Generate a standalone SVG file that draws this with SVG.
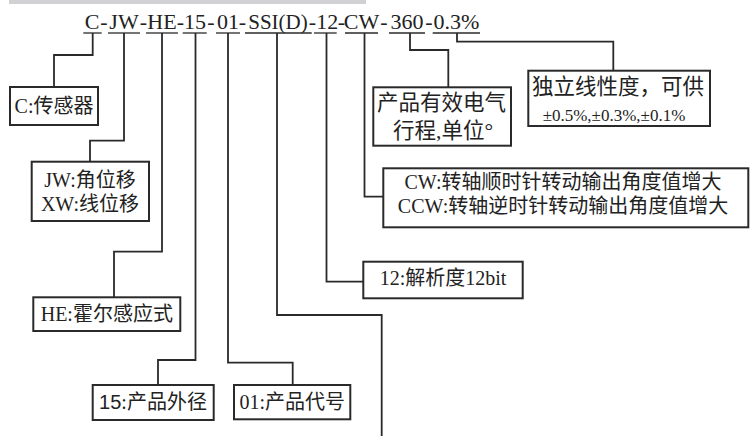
<svg xmlns="http://www.w3.org/2000/svg" width="753" height="436" viewBox="0 0 753 436">
<style>
text{font-family:"Liberation Serif","Noto Sans CJK SC",serif;fill:#222;font-size:20px}
.t{font-size:22px;text-anchor:middle}
.m{text-anchor:middle}
.box{fill:#fff;stroke:#2a2a2a;stroke-width:2}
.c{fill:none;stroke:#2a2a2a;stroke-width:1.8}
.u{stroke:#2a2a2a;stroke-width:1.3}
.sans{font-family:"Liberation Sans","Noto Sans CJK SC",sans-serif}
</style>
<rect x="9" y="0" width="357" height="4" fill="#d1d1d3"/>
<g id="code">
<text class="t" y="29"><tspan x="92">C</tspan><tspan x="104">-</tspan><tspan x="124">JW</tspan><tspan x="143.5">-</tspan><tspan x="162">HE</tspan><tspan x="180.5">-</tspan><tspan x="195">15</tspan><tspan x="211">-</tspan><tspan x="228">01</tspan><tspan x="242.5">-</tspan><tspan x="278" style="font-size:21px">SSI(D)</tspan><tspan x="312.3">-</tspan><tspan x="327.3">12</tspan><tspan x="341.5">-</tspan><tspan x="361.5">CW</tspan><tspan x="384">-</tspan><tspan x="407">360</tspan><tspan x="429">-</tspan><tspan x="456.5">0.3%</tspan></text>
<line class="u" x1="83.3" y1="33" x2="101.7" y2="33"/>
<line class="u" x1="108" y1="33" x2="140" y2="33"/>
<line class="u" x1="146" y1="33" x2="178" y2="33"/>
<line class="u" x1="182.7" y1="33" x2="206.7" y2="33"/>
<line class="u" x1="216" y1="33" x2="240" y2="33"/>
<line class="u" x1="245" y1="33" x2="311.7" y2="33"/>
<line class="u" x1="314" y1="33" x2="336.7" y2="33"/>
<line class="u" x1="345" y1="33" x2="378" y2="33"/>
<line class="u" x1="389" y1="33" x2="425" y2="33"/>
<line class="u" x1="432.7" y1="33" x2="480" y2="33"/>
</g>
<g id="connectors">
<path class="c" d="M92.7,33 V55 H54 V87"/>
<path class="c" d="M124,33 V140.7 H90 V161.7"/>
<path class="c" d="M162,33 V251.7 H114 V297.3"/>
<path class="c" d="M195.5,33 V360 H158 V385"/>
<path class="c" d="M228,33 V362.7 H292.7 V385"/>
<path class="c" d="M277,33 V315 H381.7 V436"/>
<path class="c" d="M326.5,33 V281.7 H363.3"/>
<path class="c" d="M364.5,33 V196.7 H383.3"/>
<path class="c" d="M410,33 V50 H448.3 V87.3"/>
<path class="c" d="M457,33 V41.7 H613.3 V70.7"/>
</g>
<g id="node-c">
<rect class="box" x="10" y="87" width="88" height="38"/>
<text class="m" x="54" y="113">C:传感器</text>
</g>
<g id="node-jw">
<rect class="box" x="31.7" y="161.7" width="117.3" height="59.3"/>
<text class="m" x="90" y="187">JW:角位移</text>
<text class="m" x="90" y="211">XW:线位移</text>
</g>
<g id="node-he">
<rect class="box" x="33.3" y="297.3" width="147" height="33.7"/>
<text class="m" x="106.8" y="321">HE:霍尔感应式</text>
</g>
<g id="node-15">
<rect class="box" x="92.7" y="385" width="121" height="35"/>
<text class="m" x="153" y="409"><tspan class="sans">15</tspan>:产品外径</text>
</g>
<g id="node-01">
<rect class="box" x="234" y="385" width="116.3" height="34.3"/>
<text class="m" x="292.2" y="409">01:产品代号</text>
</g>
<g id="node-12">
<rect class="box" x="363.3" y="261.7" width="159.4" height="36.6"/>
<text class="m" x="443" y="285">12:解析度12bit</text>
</g>
<g id="node-cw">
<rect class="box" x="383.3" y="168.3" width="365" height="59"/>
<text class="m" x="563" y="189">CW:转轴顺时针转动输出角度值增大</text>
<text class="m" x="563" y="213">CCW:转轴逆时针转动输出角度值增大</text>
</g>
<g id="node-360">
<rect class="box" x="373.3" y="87.3" width="137.7" height="58.4"/>
<text x="377" y="110" style="font-size:21.5px">产品有效电气</text>
<text x="393" y="138" style="font-size:21.5px">行程,单位°</text>
</g>
<g id="node-linearity">
<rect class="box" x="528.3" y="70.7" width="181.7" height="55.3"/>
<text class="m" x="618" y="94" style="font-size:21.5px">独立线性度，可供</text>
<text class="m" x="614" y="121" style="font-size:17px">±0.5%,±0.3%,±0.1%</text>
</g>
</svg>
